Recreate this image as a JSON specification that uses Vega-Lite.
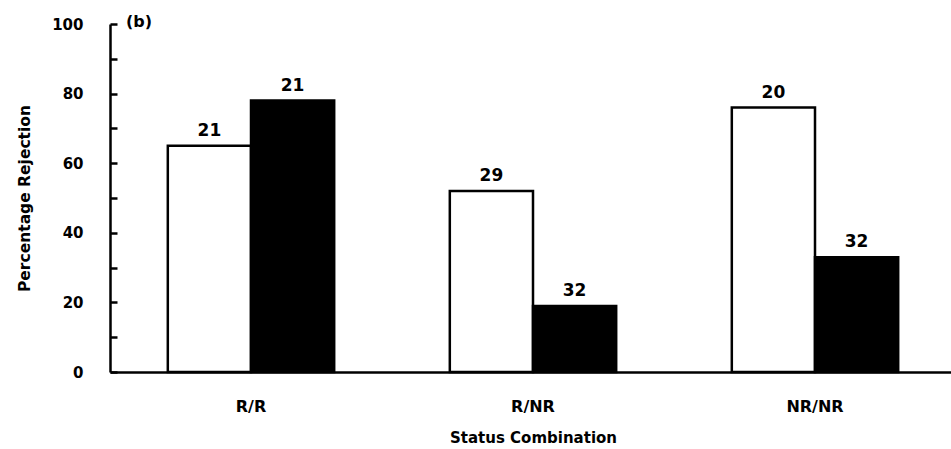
{
  "$schema": "https://vega.github.io/schema/vega-lite/v6.json",
  "autosize": "none",
  "width": 846,
  "height": 348,
  "padding": {"left": 110, "top": 24, "right": 0, "bottom": 77},
  "background": "white",
  "config": {
    "view": {"stroke": null},
    "font": "DejaVu Sans"
  },
  "title": {"text": "(b)", "anchor": "start", "frame": "group", "dx": 16, "offset": -13, "fontSize": 16, "fontWeight": "bold", "font": "DejaVu Sans", "color": "black"},
  "data": {
    "values": [
      {"status": "R/R", "group": "A", "pct": 65, "n": 21},
      {"status": "R/R", "group": "B", "pct": 78, "n": 21},
      {"status": "R/NR", "group": "A", "pct": 52, "n": 29},
      {"status": "R/NR", "group": "B", "pct": 19, "n": 32},
      {"status": "NR/NR", "group": "A", "pct": 76, "n": 20},
      {"status": "NR/NR", "group": "B", "pct": 33, "n": 32}
    ]
  },
  "encoding": {
    "x": {
      "field": "status", "type": "nominal", "sort": ["R/R", "R/NR", "NR/NR"],
      "scale": {"paddingInner": 0.41, "paddingOuter": 0.205},
      "axis": {
        "title": "Status Combination", "titleFont": "DejaVu Sans", "titleFontSize": 15, "titleFontWeight": "bold", "titlePadding": 16,
        "labelAngle": 0, "labelFont": "DejaVu Sans", "labelFontSize": 16, "labelFontWeight": "bold", "labelPadding": 26,
        "ticks": false, "domainColor": "black", "domainWidth": 2.5, "labelColor": "black", "titleColor": "black"
      }
    },
    "xOffset": {"field": "group", "type": "nominal", "scale": {"paddingInner": 0, "paddingOuter": 0}},
    "y": {
      "field": "pct", "type": "quantitative",
      "scale": {"domain": [0, 100], "nice": false},
      "axis": {
        "title": "Percentage Rejection", "titleFont": "DejaVu Sans", "titleFontSize": 15.5, "titleFontWeight": "bold", "titlePadding": 19,
        "values": [0, 10, 20, 30, 40, 50, 60, 70, 80, 90, 100],
        "labelExpr": "datum.value % 20 == 0 ? datum.label : ''",
        "labelFont": "DejaVu Sans", "labelFontSize": 15, "labelFontWeight": "bold", "labelPadding": 34,
        "tickSize": -7, "tickWidth": 2.5, "tickColor": "black",
        "domainColor": "black", "domainWidth": 2.5, "grid": false,
        "labelColor": "black", "titleColor": "black"
      }
    }
  },
  "layer": [
    {
      "mark": {"type": "bar", "stroke": "black", "strokeWidth": 2.5},
      "encoding": {
        "fill": {"field": "group", "type": "nominal", "scale": {"domain": ["A", "B"], "range": ["white", "black"]}, "legend": null}
      }
    },
    {
      "mark": {"type": "text", "dy": -15, "font": "DejaVu Sans", "fontSize": 17, "fontWeight": "bold", "color": "black"},
      "encoding": {"text": {"field": "n", "type": "quantitative"}}
    }
  ]
}
